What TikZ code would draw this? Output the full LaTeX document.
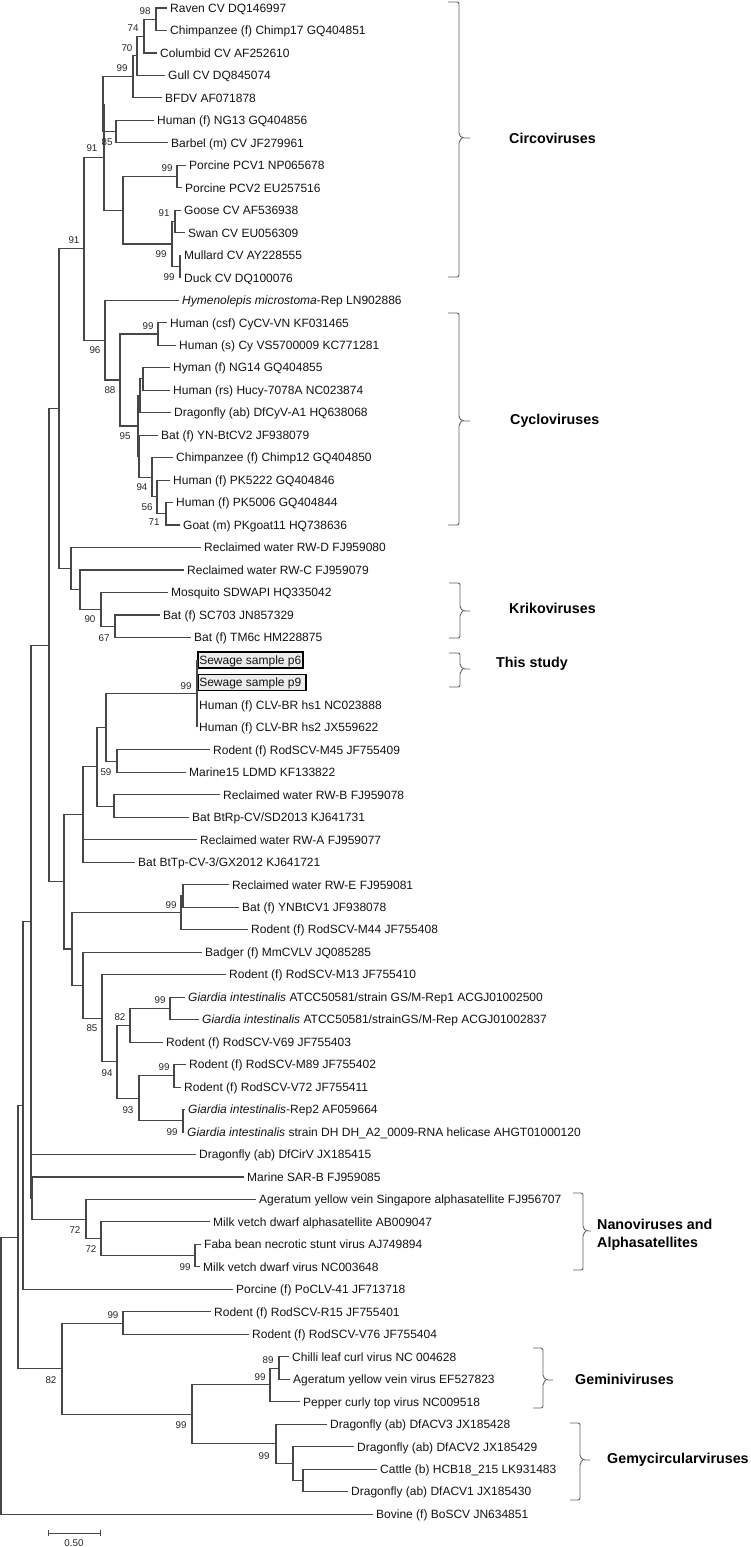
\documentclass[tikz,border=0pt]{standalone}
\usepackage{fontspec}
\setmainfont{Liberation Sans}
\newcommand\tleaf[4]{\node[leaf] (#1) at (#2,#3) {#4};}
\newcommand\gbrace[6]{%
  \draw[bracestyle,rounded corners=2pt] (#1,#4) -- (#2,#4) -- (#2,#6-3) -- (#2+3,#6) -- (#3,#6);
  \draw[bracestyle,rounded corners=2pt] (#2+3,#6) -- (#2,#6+3) -- (#2,#5) -- (#1,#5);}
\begin{document}
\begin{tikzpicture}[x=1pt,y=-1pt,
  br/.style={line width=1.1pt, draw=black!72},
  leaf/.style={anchor=west, inner xsep=3pt, inner ysep=0pt, text height=8.6pt, text depth=0pt, font=\fontsize{12}{14}\selectfont, text=black!92},
  sew/.style={leaf, draw=black, line width=1.6pt, fill=gray!15, inner xsep=1.5pt, inner ysep=3.6pt},
  boot/.style={font=\fontsize{9.8}{11}\selectfont, inner sep=0pt, text=black!85},
  grp/.style={anchor=west, font=\fontsize{14.3}{17}\selectfont\bfseries, inner sep=0pt, text=black},
  bracestyle/.style={line width=0.9pt, draw=black!62}]
\useasboundingbox (0,0) rectangle (750,1547);
\fill[white] (0,0) rectangle (750,1547);

% ---------------- leaves ----------------
\tleaf{L1}{167}{8}{Raven CV DQ146997}
\tleaf{L2}{167}{30.48}{Chimpanzee (f) Chimp17 GQ404851}
\tleaf{L3}{157}{52.96}{Columbid CV AF252610}
\tleaf{L4}{165}{75.44}{Gull CV DQ845074}
\tleaf{L5}{162}{97.92}{BFDV AF071878}
\tleaf{L6}{154}{120.40}{Human (f) NG13 GQ404856}
\tleaf{L7}{168}{142.88}{Barbel (m) CV JF279961}
\tleaf{L8}{186}{165.36}{Porcine PCV1 NP065678}
\tleaf{L9}{182}{187.84}{Porcine PCV2 EU257516}
\tleaf{L10}{181}{210.32}{Goose CV AF536938}
\tleaf{L11}{185}{232.80}{Swan CV EU056309}
\tleaf{L12}{181}{255.28}{Mullard CV AY228555}
\tleaf{L13}{181}{277.76}{Duck CV DQ100076}
\tleaf{L14}{179}{300.24}{\textit{Hymenolepis microstoma}-Rep LN902886}
\tleaf{L15}{167}{322.72}{Human (csf) CyCV-VN KF031465}
\tleaf{L16}{176}{345.20}{Human (s) Cy VS5700009 KC771281}
\tleaf{L17}{170}{367.68}{Hyman (f) NG14 GQ404855}
\tleaf{L18}{170}{390.16}{Human (rs) Hucy-7078A NC023874}
\tleaf{L19}{171}{412.64}{Dragonfly (ab) DfCyV-A1 HQ638068}
\tleaf{L20}{158}{435.12}{Bat (f) YN-BtCV2 JF938079}
\tleaf{L21}{173}{457.60}{Chimpanzee (f) Chimp12 GQ404850}
\tleaf{L22}{170}{480.08}{Human (f) PK5222 GQ404846}
\tleaf{L23}{173}{502.56}{Human (f) PK5006 GQ404844}
\tleaf{L24}{180}{525.04}{Goat (m) PKgoat11 HQ738636}
\tleaf{L25}{201}{547.52}{Reclaimed water RW-D FJ959080}
\tleaf{L26}{184}{570.00}{Reclaimed water RW-C FJ959079}
\tleaf{L27}{168}{592.48}{Mosquito SDWAPI HQ335042}
\tleaf{L28}{160}{614.96}{Bat (f) SC703 JN857329}
\tleaf{L29}{191}{637.44}{Bat (f) TM6c HM228875}
\node[sew] (L30) at (197,659.92) {Sewage sample p6};
\node[sew] (L31) at (197,682.40) {Sewage sample p9\hspace*{3pt}};
\node[leaf,inner xsep=2pt] (L32) at (197,704.88) {Human (f) CLV-BR hs1 NC023888};
\node[leaf,inner xsep=2pt] (L33) at (197,727.36) {Human (f) CLV-BR hs2 JX559622};
\tleaf{L34}{210}{749.84}{Rodent (f) RodSCV-M45 JF755409}
\tleaf{L35}{186}{772.32}{Marine15 LDMD KF133822}
\tleaf{L36}{220}{794.80}{Reclaimed water RW-B FJ959078}
\tleaf{L37}{189}{817.28}{Bat BtRp-CV/SD2013 KJ641731}
\tleaf{L38}{197}{839.76}{Reclaimed water RW-A FJ959077}
\tleaf{L39}{135}{862.24}{Bat BtTp-CV-3/GX2012 KJ641721}
\tleaf{L40}{229}{884.72}{Reclaimed water RW-E FJ959081}
\tleaf{L41}{239}{907.20}{Bat (f) YNBtCV1 JF938078}
\tleaf{L42}{248}{929.68}{Rodent (f) RodSCV-M44 JF755408}
\tleaf{L43}{202}{952.16}{Badger (f) MmCVLV JQ085285}
\tleaf{L44}{226}{974.64}{Rodent (f) RodSCV-M13 JF755410}
\tleaf{L45}{185}{997.12}{\textit{Giardia intestinalis} ATCC50581/strain GS/M-Rep1 ACGJ01002500}
\tleaf{L46}{199}{1019.60}{\textit{Giardia intestinalis} ATCC50581/strainGS/M-Rep ACGJ01002837}
\tleaf{L47}{163}{1042.08}{Rodent (f) RodSCV-V69 JF755403}
\tleaf{L48}{186}{1064.56}{Rodent (f) RodSCV-M89 JF755402}
\tleaf{L49}{181}{1087.04}{Rodent (f) RodSCV-V72 JF755411}
\tleaf{L50}{185}{1109.52}{\textit{Giardia intestinalis}-Rep2 AF059664}
\tleaf{L51}{184}{1132.00}{\textit{Giardia intestinalis} strain DH DH\_A2\_0009-RNA helicase AHGT01000120}
\tleaf{L52}{196}{1154.48}{Dragonfly (ab) DfCirV JX185415}
\tleaf{L53}{244}{1176.96}{Marine SAR-B FJ959085}
\tleaf{L54}{256}{1199.44}{Ageratum yellow vein Singapore alphasatellite FJ956707}
\tleaf{L55}{210}{1221.92}{Milk vetch dwarf alphasatellite AB009047}
\tleaf{L56}{201}{1244.40}{Faba bean necrotic stunt virus AJ749894}
\tleaf{L57}{200}{1266.88}{Milk vetch dwarf virus NC003648}
\tleaf{L58}{233}{1289.36}{Porcine (f) PoCLV-41 JF713718}
\tleaf{L59}{211}{1311.84}{Rodent (f) RodSCV-R15 JF755401}
\tleaf{L60}{249}{1334.32}{Rodent (f) RodSCV-V76 JF755404}
\tleaf{L61}{289}{1356.80}{Chilli leaf curl virus NC 004628}
\tleaf{L62}{290}{1379.28}{Ageratum yellow vein virus EF527823}
\tleaf{L63}{300}{1401.76}{Pepper curly top virus NC009518}
\tleaf{L64}{327}{1424.24}{Dragonfly (ab) DfACV3 JX185428}
\tleaf{L65}{354}{1446.72}{Dragonfly (ab) DfACV2 JX185429}
\tleaf{L66}{377}{1469.20}{Cattle (b) HCB18\_215 LK931483}
\tleaf{L67}{348}{1491.68}{Dragonfly (ab) DfACV1 JX185430}
\tleaf{L68}{373}{1514.16}{Bovine (f) BoSCV JN634851}

% ---------------- internal nodes ----------------
\coordinate (c1) at (156,19.24);
\coordinate (c2) at (144,36.10);
\coordinate (c3) at (137,55.77);
\coordinate (c4) at (133,76.85);
\coordinate (c5) at (116,131.64);
\coordinate (c6) at (177,176.60);
\coordinate (c7) at (175,221.56);
\coordinate (c8) at (180,266.52);
\coordinate (c9) at (172,244.04);
\coordinate (c10) at (123,210.32);
\coordinate (c11) at (103,104.25);
\coordinate (c12) at (104,157.28);
\coordinate (cy1) at (158,333.96);
\coordinate (cy2) at (143,378.92);
\coordinate (cy3) at (140,395.78);
\coordinate (cy4) at (166,513.80);
\coordinate (cy5) at (157,496.94);
\coordinate (cy6) at (152,477.27);
\coordinate (cy8) at (139,456.20);
\coordinate (cy7) at (138,425.99);
\coordinate (n88) at (120,379.98);
\coordinate (n96) at (105,340.11);
\coordinate (c13) at (84,248.70);
\coordinate (k1) at (115,626.20);
\coordinate (k2) at (101,609.34);
\coordinate (k3) at (80,589.67);
\coordinate (k4) at (71,568.60);
\coordinate (n59) at (59,408.65);
\coordinate (s1) at (197,693.64);
\coordinate (s2) at (117,761.08);
\coordinate (s3) at (106,727.36);
\coordinate (s4) at (114,806.04);
\coordinate (s5) at (97,766.70);
\coordinate (s6) at (83,814.47);
\coordinate (r1) at (183,895.96);
\coordinate (r2) at (181,912.82);
\coordinate (g1) at (170,1008.36);
\coordinate (g2) at (130,1025.22);
\coordinate (g3) at (174,1075.80);
\coordinate (g4) at (183,1120.76);
\coordinate (g5) at (139,1098.28);
\coordinate (g6) at (117,1061.75);
\coordinate (g7) at (102,1018.20);
\coordinate (g8) at (83,985.18);
\coordinate (r3) at (72,949.00);
\coordinate (n64) at (64,881.74);
\coordinate (n49) at (49,645.20);
\coordinate (a1) at (195,1255.64);
\coordinate (a2) at (101,1238.78);
\coordinate (a3) at (86,1219.11);
\coordinate (n32) at (32,1198.04);
\coordinate (n31) at (31,921.62);
\coordinate (n23) at (23,1105.49);
\coordinate (gm1) at (279,1368.04);
\coordinate (gm2) at (270,1384.90);
\coordinate (gy1) at (303,1480.44);
\coordinate (gy2) at (293,1463.58);
\coordinate (gy3) at (276,1443.91);
\coordinate (gg) at (192,1414.41);
\coordinate (rr) at (123,1323.08);
\coordinate (n62) at (62,1368.74);
\coordinate (n18) at (18,1237.12);
\coordinate (root) at (1,1375.6);

% ---------------- branches ----------------
\draw[br] (c1) |- (L1.west) (c1) |- (L2.west);
\draw[br] (c2) |- (c1) (c2) |- (L3.west);
\draw[br] (c3) |- (c2) (c3) |- (L4.west);
\draw[br] (c4) |- (c3) (c4) |- (L5.west);
\draw[br] (c5) |- (L6.west) (c5) |- (L7.west);
\draw[br] (c6) |- (L8.west) (c6) |- (L9.west);
\draw[br] (c7) |- (L10.west) (c7) |- (L11.west);
\draw[br] (c8) |- (L12.west) (c8) |- (L13.west);
\draw[br] (c9) |- (c7) (c9) |- (c8);
\draw[br] (c10) |- (c6) (c10) |- (c9);
\draw[br] (c11) |- (c4) (c11) |- (c5);
\draw[br] (c12) |- (c11) (c12) |- (c10);
\draw[br] (cy1) |- (L15.west) (cy1) |- (L16.west);
\draw[br] (cy2) |- (L17.west) (cy2) |- (L18.west);
\draw[br] (cy3) |- (cy2) (cy3) |- (L19.west);
\draw[br] (cy4) |- (L23.west) (cy4) |- (L24.west);
\draw[br] (cy5) |- (L22.west) (cy5) |- (cy4);
\draw[br] (cy6) |- (L21.west) (cy6) |- (cy5);
\draw[br] (cy8) |- (L20.west) (cy8) |- (cy6);
\draw[br] (cy7) |- (cy3) (cy7) |- (cy8);
\draw[br] (n88) |- (cy1) (n88) |- (cy7);
\draw[br] (n96) |- (L14.west) (n96) |- (n88);
\draw[br] (c13) |- (c12) (c13) |- (n96);
\draw[br] (k1) |- (L28.west) (k1) |- (L29.west);
\draw[br] (k2) |- (L27.west) (k2) |- (k1);
\draw[br] (k3) |- (L26.west) (k3) |- (k2);
\draw[br] (k4) |- (L25.west) (k4) |- (k3);
\draw[br] (n59) |- (c13) (n59) |- (k4);
\draw[br] (s1) |- (L30.west) (s1) |- (L31.west) (s1) |- (L32.west) (s1) |- (L33.west);
\draw[br] (s2) |- (L34.west) (s2) |- (L35.west);
\draw[br] (s3) |- (s1) (s3) |- (s2);
\draw[br] (s4) |- (L36.west) (s4) |- (L37.west);
\draw[br] (s5) |- (s3) (s5) |- (s4);
\draw[br] (s6) |- (s5) (s6) |- (L38.west) (s6) |- (L39.west);
\draw[br] (r1) |- (L40.west) (r1) |- (L41.west);
\draw[br] (r2) |- (r1) (r2) |- (L42.west);
\draw[br] (g1) |- (L45.west) (g1) |- (L46.west);
\draw[br] (g2) |- (g1) (g2) |- (L47.west);
\draw[br] (g3) |- (L48.west) (g3) |- (L49.west);
\draw[br] (g4) |- (L50.west) (g4) |- (L51.west);
\draw[br] (g5) |- (g3) (g5) |- (g4);
\draw[br] (g6) |- (g2) (g6) |- (g5);
\draw[br] (g7) |- (L44.west) (g7) |- (g6);
\draw[br] (g8) |- (L43.west) (g8) |- (g7);
\draw[br] (r3) |- (r2) (r3) |- (g8);
\draw[br] (n64) |- (s6) (n64) |- (r3);
\draw[br] (n49) |- (n59) (n49) |- (n64);
\draw[br] (a1) |- (L56.west) (a1) |- (L57.west);
\draw[br] (a2) |- (L55.west) (a2) |- (a1);
\draw[br] (a3) |- (L54.west) (a3) |- (a2);
\draw[br] (n32) |- (L53.west) (n32) |- (a3);
\draw[br] (n31) |- (n49) (n31) |- (L52.west) (n31) |- (n32);
\draw[br] (n23) |- (n31) (n23) |- (L58.west);
\draw[br] (gm1) |- (L61.west) (gm1) |- (L62.west);
\draw[br] (gm2) |- (gm1) (gm2) |- (L63.west);
\draw[br] (gy1) |- (L66.west) (gy1) |- (L67.west);
\draw[br] (gy2) |- (L65.west) (gy2) |- (gy1);
\draw[br] (gy3) |- (L64.west) (gy3) |- (gy2);
\draw[br] (gg) |- (gm2) (gg) |- (gy3);
\draw[br] (rr) |- (L59.west) (rr) |- (L60.west);
\draw[br] (n62) |- (rr) (n62) |- (gg);
\draw[br] (n18) |- (n23) (n18) |- (n62);
\draw[br] (root) |- (n18) (root) |- (L68.west);

% ---------------- bootstrap values ----------------
\node[boot] (b1) at (145,10.7) {98};
\node[boot] (b2) at (133,28) {74};
\node[boot] (b3) at (127,48) {70};
\node[boot] (b4) at (122,68) {99};
\node[boot] (b5) at (107,142) {85};
\node[boot] (b6) at (92,148) {91};
\node[boot] (b7) at (167,168) {99};
\node[boot] (b8) at (164,213) {91};
\node[boot] (b9) at (161,254) {99};
\node[boot] (b10) at (169,277) {99};
\node[boot] (b11) at (74,240) {91};
\node[boot] (b12) at (95,350) {96};
\node[boot] (b13) at (148,326) {99};
\node[boot] (b14) at (110,390) {88};
\node[boot] (b15) at (125,436) {95};
\node[boot] (b16) at (142,487) {94};
\node[boot] (b17) at (147,507) {56};
\node[boot] (b18) at (154,522) {71};
\node[boot] (b19) at (90,619) {90};
\node[boot] (b20) at (104,638) {67};
\node[boot] (b21) at (186,686) {99};
\node[boot] (b22) at (106,772) {59};
\node[boot] (b23) at (171,905) {99};
\node[boot] (b24) at (160,1000) {99};
\node[boot] (b25) at (120,1017) {82};
\node[boot] (b26) at (92,1028) {85};
\node[boot] (b27) at (107,1073) {94};
\node[boot] (b28) at (164,1067) {99};
\node[boot] (b29) at (128,1110) {93};
\node[boot] (b30) at (172,1132) {99};
\node[boot] (b31) at (75,1230) {72};
\node[boot] (b32) at (91,1249) {72};
\node[boot] (b33) at (185,1267) {99};
\node[boot] (b34) at (113,1315) {99};
\node[boot] (b35) at (51,1380) {82};
\node[boot] (b36) at (268,1360) {89};
\node[boot] (b37) at (260,1377) {99};
\node[boot] (b38) at (181,1425) {99};
\node[boot] (b39) at (264,1456) {99};

% ---------------- group braces ----------------
\gbrace{448}{459}{470}{2}{277}{138}
\gbrace{448}{459}{470}{313}{525}{421}
\gbrace{449}{460}{470}{583}{638}{611}
\gbrace{449}{460}{470}{653}{687}{669}
\gbrace{573}{583}{591}{1193}{1270}{1231}
\gbrace{533}{543}{553}{1348}{1408}{1380}
\gbrace{570}{580}{590}{1423}{1500}{1460}
\node[grp] (G1) at (509,138) {Circoviruses};
\node[grp] (G2) at (510,421) {Cycloviruses};
\node[grp] (G3) at (509,608) {Krikoviruses};
\node[grp] (G4) at (496,664) {This study};
\node[grp] (G5) at (597,1224) {Nanoviruses and};
\node[grp] (G6) at (597,1244) {Alphasatellites};
\node[grp] (G7) at (575,1379) {Geminiviruses};
\node[grp] (G8) at (607,1460) {Gemycircularviruses};

% ---------------- scale bar ----------------
\coordinate (sb1) at (48,1533);
\coordinate (sb2) at (100,1533);
\draw[line width=1pt, draw=black!72] (sb1) -- (sb2) ([yshift=3pt]sb1) -- ([yshift=-3pt]sb1) ([yshift=3pt]sb2) -- ([yshift=-3pt]sb2);
\node[boot] (sbl) at (74,1543) {0.50};
\end{tikzpicture}
\end{document}
